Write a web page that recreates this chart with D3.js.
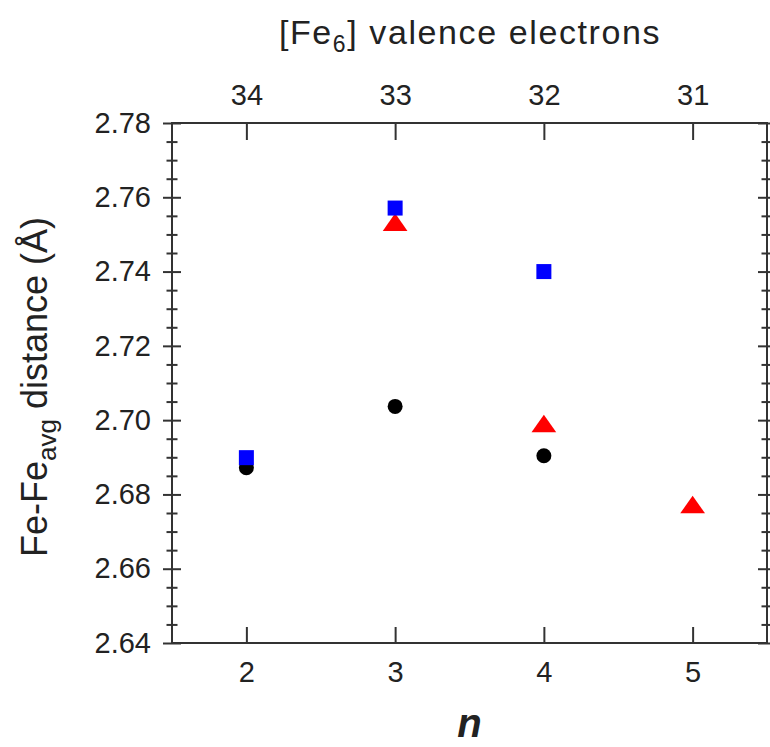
<!DOCTYPE html>
<html>
<head>
<meta charset="utf-8">
<script src="https://cdn.jsdelivr.net/npm/d3@7"></script>
<style>
  body { margin: 0; background: #fff; }
  svg text { font-family: "Liberation Sans", Arial, sans-serif; fill: #222; }
</style>
</head>
<body>
<div id="chart"></div>
<script>
// data
var nTicks = [2, 3, 4, 5];
var electronTicks = [34, 33, 32, 31];
var yTicks = [2.64, 2.66, 2.68, 2.70, 2.72, 2.74, 2.76, 2.78];

var circleN = [2, 3, 4];
var circleY = [2.6872, 2.7037, 2.6904];
var triangleN = [3, 4, 5];
var triangleY = [2.7525, 2.6983, 2.6765];
var squareN = [2, 3, 4];
var squareY = [2.6899, 2.7571, 2.7400];

var width = 770, height = 747;
var marginLeft = 172, marginRight = 3, marginTop = 123, marginBottom = 104;
var axisColor = "#333";

function init() {
  var svg = d3.select("#chart").append("svg")
      .attr("width", width)
      .attr("height", height)
      .attr("viewBox", [0, 0, width, height]);

  var xScale = d3.scaleLinear([1.5, 5.5], [marginLeft, width - marginRight]);
  var eScale = d3.scaleLinear([34.5, 30.5], [marginLeft, width - marginRight]); // electrons = 36 - n
  var yScale = d3.scaleLinear([2.64, 2.78], [height - marginBottom, marginTop]);

  var minor = d3.ticks(2.64, 2.78, 28).filter(v => !yTicks.some(t => Math.abs(t - v) < 1e-6));

  // frame
  svg.append("rect")
      .attr("x", marginLeft).attr("y", marginTop)
      .attr("width", width - marginRight - marginLeft)
      .attr("height", height - marginBottom - marginTop)
      .attr("fill", "none")
      .attr("stroke", axisColor)
      .attr("stroke-width", 2);

  // bottom axis (n)
  svg.append("g")
      .attr("transform", `translate(0,${height - marginBottom})`)
      .call(d3.axisBottom(xScale).tickValues(nTicks).tickSizeOuter(0).tickSize(-16).tickPadding(18).tickFormat(d3.format("d")))
      .call(g => g.select(".domain").remove())
      .call(g => g.selectAll(".tick line").attr("stroke", axisColor).attr("stroke-width", 2))
      .call(g => g.selectAll(".tick text").style("font-size", "29px"));

  // top axis (valence electrons)
  svg.append("g")
      .attr("transform", `translate(0,${marginTop})`)
      .call(d3.axisTop(eScale).tickValues(electronTicks).tickSizeOuter(0).tickSize(-17).tickPadding(18).tickFormat(d3.format("d")))
      .call(g => g.select(".domain").remove())
      .call(g => g.selectAll(".tick line").attr("stroke", axisColor).attr("stroke-width", 2))
      .call(g => g.selectAll(".tick text").style("font-size", "29px"));

  // left axis, major ticks cross the line
  svg.append("g")
      .attr("transform", `translate(${marginLeft},0)`)
      .call(d3.axisLeft(yScale).tickValues(yTicks).tickSizeOuter(0).tickSize(9).tickPadding(12).tickFormat(d3.format(".2f")))
      .call(g => g.select(".domain").remove())
      .call(g => g.selectAll(".tick line").attr("x1", 9).attr("stroke", axisColor).attr("stroke-width", 2))
      .call(g => g.selectAll(".tick text").style("font-size", "29px"));

  svg.append("g")
      .attr("transform", `translate(${marginLeft},0)`)
      .call(d3.axisLeft(yScale).tickValues(minor).tickSizeOuter(0).tickSize(5.5).tickFormat(""))
      .call(g => g.select(".domain").remove())
      .call(g => g.selectAll(".tick line").attr("x1", 5.5).attr("stroke", axisColor).attr("stroke-width", 2));

  // right axis, mirror of the left one without labels
  svg.append("g")
      .attr("transform", `translate(${width - marginRight},0)`)
      .call(d3.axisRight(yScale).tickValues(yTicks).tickSizeOuter(0).tickSize(9).tickFormat(""))
      .call(g => g.select(".domain").remove())
      .call(g => g.selectAll(".tick line").attr("x1", -9).attr("stroke", axisColor).attr("stroke-width", 2));

  svg.append("g")
      .attr("transform", `translate(${width - marginRight},0)`)
      .call(d3.axisRight(yScale).tickValues(minor).tickSizeOuter(0).tickSize(5.5).tickFormat(""))
      .call(g => g.select(".domain").remove())
      .call(g => g.selectAll(".tick line").attr("x1", -5.5).attr("stroke", axisColor).attr("stroke-width", 2));

  // markers: circles, then triangles, then squares on top
  svg.append("g")
    .selectAll("circle")
    .data(d3.range(circleN.length))
    .join("circle")
      .attr("cx", i => xScale(circleN[i]))
      .attr("cy", i => yScale(circleY[i]))
      .attr("r", 7.5)
      .attr("fill", "#000");

  var tri = d3.symbol(d3.symbolTriangle, 200);
  svg.append("g")
    .selectAll("path")
    .data(d3.range(triangleN.length))
    .join("path")
      .attr("transform", i => `translate(${xScale(triangleN[i])},${yScale(triangleY[i])}) scale(1.15,0.95)`)
      .attr("d", tri)
      .attr("fill", "#ff0000");

  var side = 15;
  svg.append("g")
    .selectAll("rect")
    .data(d3.range(squareN.length))
    .join("rect")
      .attr("x", i => xScale(squareN[i]) - side / 2)
      .attr("y", i => yScale(squareY[i]) - side / 2)
      .attr("width", side)
      .attr("height", side)
      .attr("fill", "#0000ff");

  // titles
  var top = svg.append("text")
      .attr("x", 470)
      .attr("y", 44)
      .attr("text-anchor", "middle")
      .style("font-size", "34px")
      .style("letter-spacing", "1.6px");
  top.append("tspan").text("[Fe");
  top.append("tspan").attr("dy", 8).style("font-size", "23px").text("6");
  top.append("tspan").attr("dy", -8).text("] valence electrons");

  var yl = svg.append("text")
      .attr("transform", `translate(47,${(marginTop + height - marginBottom) / 2 + 4}) rotate(-90)`)
      .attr("text-anchor", "middle")
      .style("font-size", "36px");
  yl.append("tspan").text("Fe-Fe");
  yl.append("tspan").attr("dy", 9).style("font-size", "26px").text("avg");
  yl.append("tspan").attr("dy", -9).text(" distance (Å)");

  svg.append("text")
      .attr("x", (marginLeft + width - marginRight) / 2)
      .attr("y", 737)
      .attr("text-anchor", "middle")
      .style("font-size", "40px")
      .style("font-weight", "bold")
      .style("font-style", "italic")
      .text("n");
}

window.onload = init;
</script>
</body>
</html>
